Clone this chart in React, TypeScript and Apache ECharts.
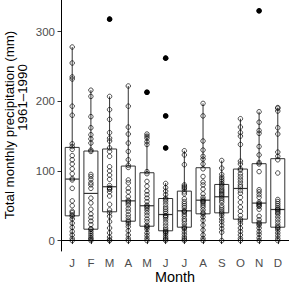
import React, { useEffect, useRef } from "react";
import * as echarts from "echarts";

const months = ["J", "F", "M", "A", "M", "J", "J", "A", "S", "O", "N", "D"];
const yTicks = [0, 100, 200, 300];

// Box statistics
const whiskerLow = [0, 0, 0, 0, 0, 0, 0, 0, 0, 0, 0, 0];
const q1 = [35.5, 16.3, 41.3, 27.8, 20.6, 14, 19.2, 38.4, 39.8, 30.7, 25.4, 19.2];
const median = [88.3, 67.7, 77.3, 57, 50, 37.4, 42.7, 58, 62.9, 74.8, 53.8, 44.6];
const q3 = [133.8, 128.6, 131.5, 107, 97.4, 60.4, 71, 104.6, 80.6, 102.7, 110.4, 117.6];
const whiskerHigh = [278, 216, 207, 222, 153, 82.6, 129, 197, 115, 175, 185, 191];
// [month number, value]
const outliers = [[3, 318], [5, 213], [6, 262], [6, 179], [6, 133], [11, 330]];

// Monthly totals 1961–1990 (estimated)
const jan = [0, 3, 8, 13, 19, 25, 31, 35, 37, 40, 42, 50, 57, 75, 87, 89, 96, 103, 110, 116, 122, 131, 135, 139, 180, 193, 232, 235, 255, 278];
const feb = [0, 2, 4, 7, 10, 13, 16, 17, 23, 28, 33, 38, 45, 54, 61, 75, 80, 83, 88, 92, 95, 128, 130, 140, 146, 152, 162, 178, 207, 216];
const mar = [0, 1, 5, 11, 18, 27, 35, 40, 44, 52, 64, 70, 74, 74, 76, 79, 88, 94, 100, 106, 121, 128, 133, 143, 147, 155, 174, 188, 207, 318];
const apr = [0, 3, 8, 14, 20, 24, 27, 29, 33, 37, 42, 46, 51, 54, 56, 58, 63, 70, 75, 83, 87, 105, 108, 116, 128, 140, 153, 163, 193, 222];
const may = [0, 3, 7, 11, 16, 19, 20, 22, 27, 31, 36, 40, 44, 47, 49, 51, 56, 61, 66, 71, 78, 85, 96, 99, 138, 142, 147, 150, 153, 213];
const jun = [0, 2, 4, 7, 10, 12, 13, 15, 18, 22, 26, 30, 33, 35, 36, 39, 42, 45, 48, 52, 56, 59, 61, 66, 71, 76, 82, 133, 179, 262];
const jul = [0, 2, 5, 9, 13, 17, 18, 20, 24, 28, 31, 35, 38, 41, 42, 43, 47, 50, 53, 56, 60, 67, 70, 74, 76, 78, 80, 109, 123, 129];
const aug = [0, 3, 8, 15, 22, 29, 34, 38, 40, 44, 48, 51, 54, 56, 57, 59, 62, 67, 74, 80, 84, 92, 103, 110, 117, 121, 130, 143, 179, 197];
const sep = [0, 12, 17, 22, 27, 31, 36, 39, 41, 44, 47, 50, 55, 58, 61, 64, 66, 68, 70, 72, 74, 77, 80, 82, 85, 88, 91, 95, 104, 115];
const oct = [0, 3, 8, 13, 18, 24, 28, 31, 36, 42, 48, 55, 62, 68, 72, 77, 80, 84, 88, 92, 96, 101, 103, 110, 114, 138, 150, 155, 163, 175];
const nov = [0, 4, 9, 13, 18, 22, 24, 26, 30, 35, 45, 49, 50, 52, 53, 55, 62, 66, 70, 73, 99, 110, 112, 123, 135, 154, 158, 170, 185, 330];
const dec = [0, 3, 7, 11, 15, 18, 19, 22, 26, 30, 34, 38, 40, 42, 44, 45, 47, 50, 53, 56, 59, 97, 116, 121, 127, 153, 162, 186, 190, 191];

const monthly = [jan, feb, mar, apr, may, jun, jul, aug, sep, oct, nov, dec];

export default function App() {
  const ref = useRef<HTMLDivElement>(null);
  useEffect(() => {
    document.body.style.margin = "0";
    if (!ref.current) return;
    const chart = echarts.init(ref.current, null, { renderer: "svg" });
    const boxData = months.map((_, i) => [i + 1, whiskerLow[i], q1[i], median[i], q3[i], whiskerHigh[i]]);
    const pointData: number[][] = [];
    monthly.forEach((arr, i) => arr.forEach((v) => pointData.push([i + 1, v])));
    const font = "Liberation Sans, Arial, Helvetica, sans-serif";
    chart.setOption({
      animation: false,
      textStyle: { fontFamily: font },
      grid: { left: 61, right: 0, top: 0, bottom: 33, containLabel: false },
      xAxis: {
        type: "value",
        min: 0.4,
        max: 12.6,
        splitLine: { show: false },
        axisLine: { show: true, lineStyle: { color: "#000", width: 1 } },
        axisTick: { show: true, length: 3.5, lineStyle: { color: "#333" }, customValues: months.map((_, i) => i + 1) },
        axisLabel: {
          color: "#4d4d4d",
          fontSize: 11.5,
          fontFamily: font,
          margin: 6,
          customValues: months.map((_, i) => i + 1),
          formatter: (v: number) => months[Math.round(v) - 1] ?? "",
        },
      },
      yAxis: {
        type: "value",
        min: -15,
        max: 345.5,
        splitLine: { show: false },
        axisLine: { show: true, lineStyle: { color: "#000", width: 1 } },
        axisTick: { show: true, length: 3.5, lineStyle: { color: "#333" }, customValues: yTicks },
        axisLabel: { color: "#4d4d4d", fontSize: 11.5, fontFamily: font, margin: 6, customValues: yTicks },
      },
      graphic: [
        {
          type: "text",
          x: 9,
          y: 125,
          rotation: Math.PI / 2,
          style: { text: "Total monthly precipitation (mm)", font: `13.3px ${font}`, fill: "#000", textAlign: "center", textVerticalAlign: "middle" },
        },
        {
          type: "text",
          x: 22.5,
          y: 97.5,
          rotation: Math.PI / 2,
          style: { text: "1961–1990", font: `13.3px ${font}`, fill: "#000", textAlign: "center", textVerticalAlign: "middle" },
        },
        {
          type: "text",
          x: 175,
          y: 284,
          style: { text: "Month", font: `14.4px ${font}`, fill: "#000", textAlign: "center", textVerticalAlign: "bottom" },
        },
      ],
      series: [
        {
          type: "custom",
          data: boxData,
          encode: { x: 0, y: [1, 2, 3, 4, 5] },
          renderItem: (params: any, api: any) => {
            const x = api.value(0);
            const pLo = api.coord([x, api.value(1)]);
            const pQ1 = api.coord([x, api.value(2)]);
            const pMed = api.coord([x, api.value(3)]);
            const pQ3 = api.coord([x, api.value(4)]);
            const pHi = api.coord([x, api.value(5)]);
            const left = api.coord([x - 0.375, 0])[0];
            const right = api.coord([x + 0.375, 0])[0];
            const st = { stroke: "#333", lineWidth: 1 };
            return {
              type: "group",
              children: [
                { type: "line", shape: { x1: pHi[0], y1: pHi[1], x2: pQ3[0], y2: pQ3[1] }, style: st },
                { type: "line", shape: { x1: pQ1[0], y1: pQ1[1], x2: pLo[0], y2: pLo[1] }, style: st },
                { type: "rect", shape: { x: left, y: pQ3[1], width: right - left, height: pQ1[1] - pQ3[1] }, style: { fill: "#fff", stroke: "#333", lineWidth: 1 } },
                { type: "line", shape: { x1: left, y1: pMed[1], x2: right, y2: pMed[1] }, style: { stroke: "#333", lineWidth: 1.2 } },
              ],
            };
          },
          z: 1,
        },
        {
          type: "scatter",
          data: outliers,
          symbol: "circle",
          symbolSize: 5.5,
          itemStyle: { color: "#000", opacity: 1 },
          z: 2,
        },
        {
          type: "scatter",
          data: pointData,
          symbol: "circle",
          symbolSize: 4.5,
          itemStyle: { color: "rgba(255,255,255,0)", borderColor: "rgba(0,0,0,0.85)", borderWidth: 1 },
          z: 3,
        },
      ],
    });
    return () => chart.dispose();
  }, []);
  return <div ref={ref} style={{ width: 289, height: 284 }} />;
}
